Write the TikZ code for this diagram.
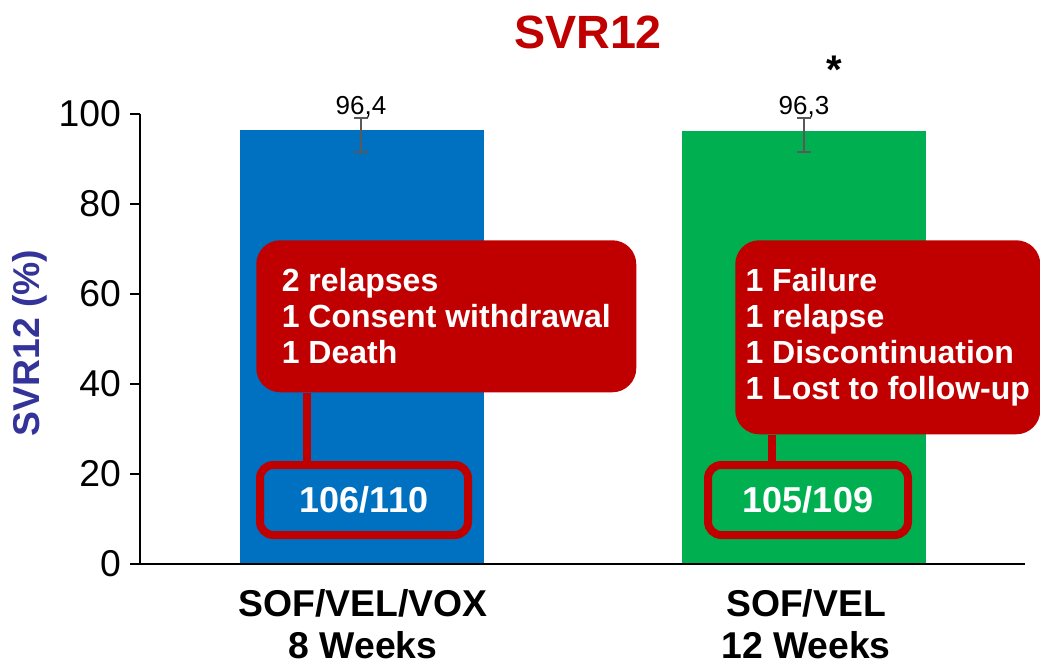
\documentclass[tikz,border=0pt]{standalone}
\usepackage{fontspec}
\setmainfont{Liberation Sans}
\usetikzlibrary{arrows.meta}
\definecolor{barblue}{HTML}{0070C0}
\definecolor{bargreen}{HTML}{00B050}
\definecolor{calloutred}{HTML}{C00000}
\definecolor{labelblue}{HTML}{333399}
\definecolor{errgray}{HTML}{595959}

\begin{document}
\begin{tikzpicture}[x=0.75pt,y=-0.75pt,
  axis/.style={line width=1.5pt, black},
  callout/.style={fill=calloutred, rounded corners=18pt, text=white, anchor=north west,
    font=\fontsize{24}{27}\selectfont\bfseries, align=left},
  countbox/.style={draw=calloutred, line width=6pt, rounded corners=10pt, text=white,
    font=\fontsize{27}{30}\selectfont\bfseries, minimum height=52.5pt},
  stem/.style={calloutred, line width=6pt},
  errbar/.style={errgray, line width=1.5pt, {Bar[width=10.5pt]}-{Bar[width=10.5pt]}},
  catlabel/.style={font=\fontsize{28}{31.5}\selectfont\bfseries, align=center, inner ysep=1pt}]

\useasboundingbox (0,0) rectangle (1040,662);

% title
\node[font=\fontsize{35}{40}\selectfont\bfseries, text=calloutred] (title) at (588,32) {SVR12};

% bars
\fill[barblue] (240,564) rectangle (484,130.2);
\fill[bargreen] (682,564) rectangle (926,130.6);

% error bars and values
\draw[errbar] (361,117) -- (361,153);
\draw[errbar] (804,117) -- (804,153);
\node[font=\fontsize{19.5}{22}\selectfont] (val1) at (361,107) {96,4};
\node[font=\fontsize{19.5}{22}\selectfont] (val2) at (804,107) {96,3};
\node[font=\fontsize{30}{34}\selectfont\bfseries] (star) at (834,70) {*};

% axes
\draw[axis] (140,114) -- (140,564) -- (1025,564);
\foreach \v in {0,20,...,100}
  \draw[axis] (130,{564-4.5*\v}) -- (140,{564-4.5*\v})
    node[pos=0, anchor=east, inner sep=0pt, xshift=-6pt, font=\fontsize{28}{32}\selectfont] (tick\v) {\v};
\node[rotate=90, font=\fontsize{28}{32}\selectfont\bfseries, text=labelblue] (ylabel) at (30,343) {SVR12 (\%)};

% category labels
\node[catlabel] (cat1) at (363,624) {SOF/VEL/VOX\\8 Weeks};
\node[catlabel] (cat2) at (806,624) {SOF/VEL\\12 Weeks};

% callouts
\node[callout, minimum width=285pt, minimum height=114pt] (why1) at (256,240)
  {2 relapses\\1 Consent withdrawal\\1 Death};
\node[callout, minimum width=228.75pt, minimum height=145.5pt] (why2) at (735,240)
  {1 Failure\\1 relapse\\1 Discontinuation\\1 Lost to follow-up};

% counts
\node[countbox, fill=barblue, minimum width=156pt] (count1) at (364,500) {106/110};
\node[countbox, fill=bargreen, minimum width=150pt] (count2) at (808,500) {105/109};

% stems
\coordinate (stem1) at (307,0);
\coordinate (stem2) at (772,0);
\draw[stem] (why1.south -| stem1) -- (count1.north -| stem1);
\draw[stem] (why2.south -| stem2) -- (count2.north -| stem2);

\end{tikzpicture}
\end{document}
